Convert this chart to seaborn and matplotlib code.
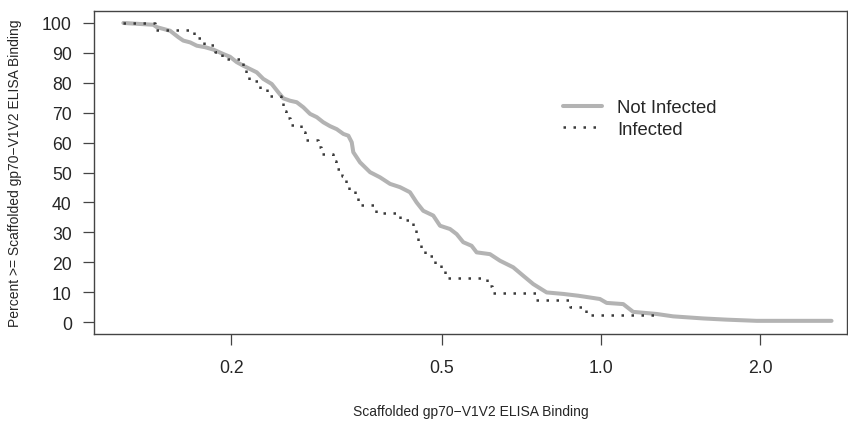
import matplotlib
matplotlib.use("Agg")
import matplotlib.pyplot as plt
from matplotlib.ticker import NullLocator
import seaborn as sns

# ---- data ----
# Not Infected: traced points of the "percent >=" curve
ni_x = [0.1250, 0.1424, 0.1446, 0.1532, 0.1589, 0.1623, 0.1672, 0.1721, 0.1784, 0.1850,
        0.1932, 0.1989, 0.2048, 0.2108, 0.2170, 0.2234, 0.2299, 0.2385, 0.2455, 0.2508,
        0.2583, 0.2659, 0.2737, 0.2818, 0.2902, 0.2985, 0.3074, 0.3165, 0.3258, 0.3330,
        0.3379, 0.3402, 0.3503, 0.3660, 0.3821, 0.3992, 0.4169, 0.4354, 0.4482, 0.4613,
        0.4819, 0.4963, 0.5184, 0.5336, 0.5491, 0.5694, 0.5821, 0.6169, 0.6444, 0.6826,
        0.7128, 0.7447, 0.7895, 0.8486, 0.9060, 0.9957, 1.0252, 1.1020, 1.1509, 1.2743,
        1.3696, 1.5611, 1.7287, 1.9700, 2.7300]
ni_pct = [100, 99.4, 98.6, 97.4, 95.2, 94.1, 93.5, 92.4, 91.9, 91.1,
          89.6, 88.7, 86.9, 85.7, 84.6, 83.5, 81.3, 79.6, 76.8, 74.8,
          74.0, 73.5, 71.8, 69.6, 68.5, 66.8, 65.5, 64.5, 62.9, 62.3,
          60.1, 56.8, 53.4, 50.1, 48.4, 46.2, 45.1, 43.4, 40.0, 37.2,
          35.6, 32.2, 31.1, 29.4, 26.7, 25.5, 23.3, 22.7, 20.5, 18.3,
          15.5, 12.7, 9.9, 9.4, 8.8, 7.7, 6.4, 6.0, 3.4, 2.7,
          1.9, 1.2, 0.8, 0.4, 0.4]

# Infected: start of each step level (last entry = end of curve)
inf_x = [0.1247, 0.1435, 0.1700, 0.1777, 0.1864, 0.1921, 0.2106, 0.2128, 0.2161, 0.2266,
         0.2336, 0.2484, 0.2505, 0.2533, 0.2583, 0.2715, 0.2757, 0.2917, 0.2955, 0.3120,
         0.3162, 0.3239, 0.3296, 0.3332, 0.3427, 0.3472, 0.3755, 0.4169, 0.4411, 0.4476,
         0.4519, 0.4578, 0.4639, 0.4855, 0.4995, 0.5072, 0.6100, 0.6222, 0.7535, 0.8737,
         0.9368, 1.2700]
inf_pct = [100, 97.6, 95.1, 92.7, 90.2, 87.8, 85.4, 82.9, 80.5, 78.0,
           75.6, 73.2, 70.7, 68.3, 65.9, 63.4, 61.0, 58.5, 56.1, 53.7,
           51.2, 48.8, 46.3, 43.9, 41.5, 39.0, 36.6, 34.1, 31.7, 29.3,
           26.8, 24.4, 22.0, 19.5, 17.1, 14.6, 12.2, 9.8, 7.3, 4.9,
           2.4, 2.4]

x_ticks = [0.2, 0.5, 1.0, 2.0]
x_ticklabels = ["0.2", "0.5", "1.0", "2.0"]
y_ticks = [0, 10, 20, 30, 40, 50, 60, 70, 80, 90, 100]

# ---- figure ----
sns.set_style("white")
plt.rcParams["font.family"] = ["Liberation Sans", "DejaVu Sans"]

W, H = 848, 427
fig = plt.figure(figsize=(W / 100, H / 100), dpi=100)
L, R, T, B = 94, 847, 12, 335
ax = fig.add_axes([L / W, (H - B) / H, (R - L) / W, (B - T) / H])
ax.set_xscale("log")

sns.lineplot(x=ni_x, y=ni_pct, ax=ax, sort=False, estimator=None,
             color="#b3b3b3", lw=2.9, label="Not Infected")
sns.lineplot(x=inf_x, y=inf_pct, ax=ax, sort=False, estimator=None,
             color="#3a3a3a", lw=1.8, linestyle=(0, (1, 3)), drawstyle="steps-post",
             label="Infected")

ax.set_xlim(0.110, 2.92)
ax.set_ylim(-4, 104)
ax.set_xticks(x_ticks)
ax.set_xticklabels(x_ticklabels)
ax.xaxis.set_minor_locator(NullLocator())
ax.set_yticks(y_ticks)
ax.set_yticklabels([str(v) for v in y_ticks])

txt = "#262626"
ax.tick_params(axis="both", which="major", bottom=True, left=True, top=False, right=False,
               direction="out", length=8, width=0.9, color="#444444",
               labelsize=12.7, labelcolor=txt)
ax.tick_params(axis="y", pad=8)
ax.tick_params(axis="x", pad=10)
for s in ax.spines.values():
    s.set_visible(True)
    s.set_color("#444444")
    s.set_linewidth(1.0)

ax.set_xlabel("Scaffolded gp70\u2212V1V2 ELISA Binding", fontsize=10, color=txt)
ax.set_ylabel("Percent >= Scaffolded gp70\u2212V1V2 ELISA Binding", fontsize=10, color=txt)
ax.xaxis.label.set_va("center")
ax.yaxis.label.set_va("center")
ax.xaxis.set_label_coords(0.5, (B - 412) / (B - T))
ax.yaxis.set_label_coords((15 - L) / (R - L), 0.5)

leg = ax.legend(loc="center left", bbox_to_anchor=(563 / W, 1 - 119.5 / H),
                bbox_transform=fig.transFigure, frameon=False, fontsize=13.3,
                handlelength=2.1, handletextpad=0.85, labelspacing=0.25,
                borderpad=0, borderaxespad=0)
for t in leg.get_texts():
    t.set_color(txt)

fig.savefig("out.png", dpi=100)
